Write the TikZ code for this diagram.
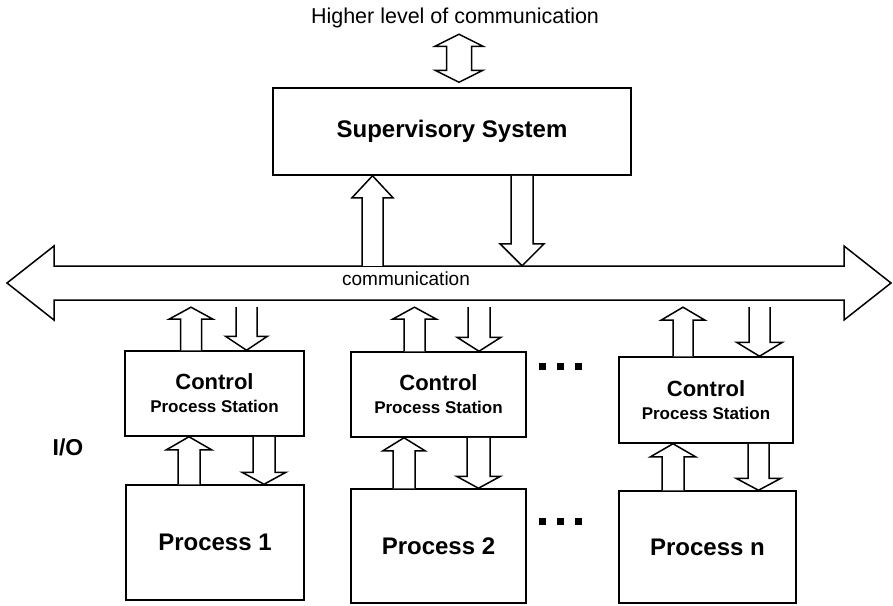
\documentclass[tikz,border=0pt]{standalone}
\usepackage{fontspec}
\setmainfont{Liberation Sans}
\usetikzlibrary{calc}

% hollow block arrow: from, to, shaft half-width, head half-width, head length
\newcommand\fatarrow[5]{%
  \coordinate (fa-a) at (#1);
  \coordinate (fa-b) at (#2);
  \coordinate (fa-h) at ($(fa-b)!#5!(fa-a)$);
  \draw[blk] ($(fa-a)!#3!90:(fa-b)$) -- ($(fa-h)!#3!90:(fa-b)$)
    -- ($(fa-h)!#4!90:(fa-b)$) -- (fa-b) -- ($(fa-h)!#4!-90:(fa-b)$)
    -- ($(fa-h)!#3!-90:(fa-b)$) -- ($(fa-a)!#3!-90:(fa-b)$);
}
% hollow double-headed block arrow, same arguments
\newcommand\fatdouble[5]{%
  \coordinate (fd-a) at (#1);
  \coordinate (fd-b) at (#2);
  \coordinate (fd-ha) at ($(fd-a)!#5!(fd-b)$);
  \coordinate (fd-hb) at ($(fd-b)!#5!(fd-a)$);
  \draw[blk] (fd-a) -- ($(fd-ha)!#4!90:(fd-b)$) -- ($(fd-ha)!#3!90:(fd-b)$)
    -- ($(fd-hb)!#3!-90:(fd-a)$) -- ($(fd-hb)!#4!-90:(fd-a)$) -- (fd-b)
    -- ($(fd-hb)!#4!90:(fd-a)$) -- ($(fd-hb)!#3!90:(fd-a)$)
    -- ($(fd-ha)!#3!-90:(fd-b)$) -- ($(fd-ha)!#4!-90:(fd-b)$) -- cycle;
}

\begin{document}
\begin{tikzpicture}[x=1pt,y=-1pt,
  box/.style={draw, rectangle, line width=1.5pt, inner sep=0pt, align=center},
  ctl/.style={box, font=\fontsize{17}{23}\selectfont\bfseries},
  blk/.style={draw, line width=1.5pt, line join=miter, fill=white},
  dotsq/.style={fill=black, minimum size=7pt, inner sep=0pt},
  big/.style={font=\fontsize{24}{28}\selectfont\bfseries}]
\useasboundingbox[fill=white] (0,0) rectangle (893,605);

% labels outside boxes
\node[font=\fontsize{21.5}{24}\selectfont] (top) at (455,18) {Higher level of communication};
\node[font=\fontsize{23}{26}\selectfont\bfseries] (io) at (68,447) {I/O};

% supervisory system
\node[box, big, minimum width=358pt, minimum height=87pt] (sup) at (452,131.5) {Supervisory System};

% control stations
\node[ctl, minimum width=179pt, minimum height=85pt] (ctl1) at (214.5,393.5)
  {{\fontsize{22}{23}\selectfont Control}\\Process Station};
\node[ctl, minimum width=175pt, minimum height=85pt] (ctl2) at (438.5,394.5)
  {{\fontsize{22}{23}\selectfont Control}\\Process Station};
\node[ctl, minimum width=174pt, minimum height=86pt] (ctl3) at (706,400)
  {{\fontsize{22}{23}\selectfont Control}\\Process Station};

% processes
\node[box, big, minimum width=178pt, minimum height=115pt] (p1) at (215,542.5) {Process 1};
\node[box, big, minimum width=175pt, minimum height=114pt] (p2) at (438.5,546) {Process 2};
\node[box, big, minimum width=177pt, minimum height=112pt] (pn) at (707.5,547) {Process n};

% communication bus
\fatdouble{7,283}{891,283}{17pt}{37pt}{47pt}
\node[inner sep=0pt, minimum width=797pt, minimum height=34pt] (bus) at (453.5,283) {};
\node[font=\fontsize{19}{22}\selectfont] (comm) at (406,279) {communication};

% link to the higher level
\fatdouble{$(sup.north)+(7,-53)$}{$(sup.north)+(7,-5)$}{12.5pt}{24pt}{12pt}

% supervisory system <-> bus
\coordinate (s-up) at ($(sup.south)+(-79.5,0)$);
\coordinate (s-dn) at ($(sup.south)+(70,0)$);
\fatarrow{s-up |- bus.north}{s-up}{10.5pt}{20.5pt}{22pt}
\fatarrow{s-dn}{s-dn |- bus.north}{11pt}{22pt}{22pt}

% bus <-> control stations
\coordinate (gap) at ($(bus.south)+(0,7)$);
\coordinate (c1u) at ($(ctl1.north)+(-23.5,0)$);
\coordinate (c1d) at ($(ctl1.north)+(32,0)$);
\coordinate (c2u) at ($(ctl2.north)+(-24,0)$);
\coordinate (c2d) at ($(ctl2.north)+(40.5,0)$);
\coordinate (c3u) at ($(ctl3.north)+(-23,0)$);
\coordinate (c3d) at ($(ctl3.north)+(53.5,0)$);
\fatarrow{c1u}{c1u |- gap}{10.5pt}{22pt}{12pt}
\fatarrow{c1d |- gap}{c1d}{10.5pt}{21pt}{14pt}
\fatarrow{c2u}{c2u |- gap}{10.5pt}{22pt}{12pt}
\fatarrow{c2d |- gap}{c2d}{11pt}{22pt}{14pt}
\fatarrow{c3u}{c3u |- gap}{10pt}{22pt}{13pt}
\fatarrow{c3d |- gap}{c3d}{10.5pt}{23pt}{14pt}

% control stations <-> processes
\coordinate (q1u) at ($(p1.north)+(-26,0)$);
\coordinate (q1d) at ($(p1.north)+(49,0)$);
\coordinate (q2u) at ($(p2.north)+(-34.5,0)$);
\coordinate (q2d) at ($(p2.north)+(40,0)$);
\coordinate (q3u) at ($(pn.north)+(-34.5,0)$);
\coordinate (q3d) at ($(pn.north)+(51,0)$);
\fatarrow{q1u}{q1u |- ctl1.south}{11pt}{22.5pt}{13pt}
\fatarrow{q1d |- ctl1.south}{q1d}{11pt}{22pt}{12pt}
\fatarrow{q2u}{q2u |- ctl2.south}{11pt}{21pt}{13pt}
\fatarrow{q2d |- ctl2.south}{q2d}{11.5pt}{22pt}{12pt}
\fatarrow{q3u}{q3u |- ctl3.south}{11pt}{22.5pt}{13pt}
\fatarrow{q3d |- ctl3.south}{q3d}{10.5pt}{22.5pt}{12pt}

% ellipses between the stations
\foreach \i/\x in {1/542,2/560,3/578} {
  \node[dotsq] (du\i) at (\x,366) {};
  \node[dotsq] (dl\i) at (\x,521) {};
}
\end{tikzpicture}
\end{document}
